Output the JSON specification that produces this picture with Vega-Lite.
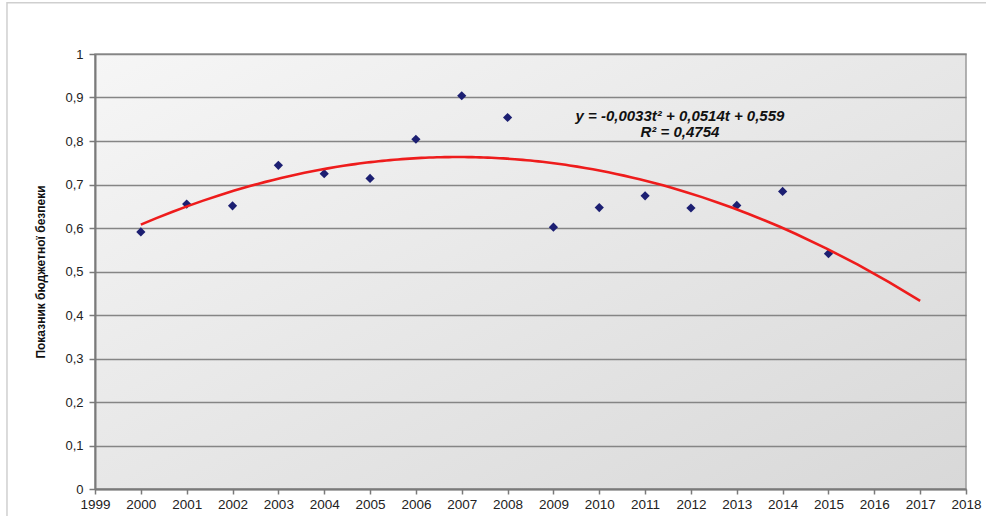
{
  "$schema": "https://vega.github.io/schema/vega-lite/v6.json",
  "width": 871,
  "height": 435,
  "autosize": {"type": "none"},
  "padding": {"left": 95, "top": 54, "right": 20, "bottom": 27},
  "background": "white",
  "config": {
    "font": "Liberation Sans",
    "view": {
      "fill": {"gradient": "linear", "x1": 0, "y1": 0, "x2": 1, "y2": 1,
        "stops": [{"offset": 0, "color": "#f6f6f6"}, {"offset": 1, "color": "#d8d8d8"}]},
      "stroke": "#9a9a9a",
      "strokeWidth": 1.5
    }
  },
  "datasets": {
    "points": [
      {"year": 2000, "value": 0.591},
      {"year": 2001, "value": 0.655},
      {"year": 2002, "value": 0.651},
      {"year": 2003, "value": 0.744},
      {"year": 2004, "value": 0.725},
      {"year": 2005, "value": 0.714},
      {"year": 2006, "value": 0.804},
      {"year": 2007, "value": 0.904},
      {"year": 2008, "value": 0.854},
      {"year": 2009, "value": 0.602},
      {"year": 2010, "value": 0.647},
      {"year": 2011, "value": 0.674},
      {"year": 2012, "value": 0.646},
      {"year": 2013, "value": 0.652},
      {"year": 2014, "value": 0.684},
      {"year": 2015, "value": 0.541}
    ],
    "notes": [
      {"year": 2011.76, "value": 0.857, "label": "y = -0,0033t² + 0,0514t + 0,559"},
      {"year": 2011.76, "value": 0.820, "label": "R² = 0,4754"}
    ],
    "frame": [
      {"x1": 1997.08, "x2": 2019.45, "y1": 1.118, "y2": -0.1}
    ]
  },
  "layer": [
    {
      "data": {"name": "frame"},
      "mark": {"type": "rect", "fill": null, "stroke": "#cfcfcf", "strokeWidth": 1.5, "clip": false},
      "encoding": {
        "x": {"field": "x1", "type": "quantitative", "scale": {"domain": [1999, 2018], "nice": false, "zero": false}},
        "x2": {"field": "x2"},
        "y": {"field": "y1", "type": "quantitative", "scale": {"domain": [0, 1], "nice": false}},
        "y2": {"field": "y2"}
      }
    },
    {
      "data": {"name": "points"},
      "mark": {"type": "point", "shape": "diamond", "filled": true, "size": 85, "color": "#1c1f72", "opacity": 1},
      "encoding": {
        "x": {
          "field": "year", "type": "quantitative",
          "scale": {"domain": [1999, 2018], "nice": false, "zero": false},
          "axis": {
            "title": null, "values": [1999,2000,2001,2002,2003,2004,2005,2006,2007,2008,2009,2010,2011,2012,2013,2014,2015,2016,2017,2018],
            "format": "d", "grid": false, "domainColor": "#7a7a7a", "domainWidth": 2,
            "tickColor": "#7a7a7a", "tickSize": 5, "tickWidth": 1.5,
            "labelFont": "Liberation Sans", "labelFontSize": 13.5, "labelColor": "#222222", "labelPadding": 3,
            "labelFlush": false, "labelOverlap": false
          }
        },
        "y": {
          "field": "value", "type": "quantitative",
          "scale": {"domain": [0, 1], "nice": false},
          "axis": {
            "title": "Показник бюджетної безпеки", "titleFont": "Liberation Sans", "titleFontSize": 12,
            "titleFontWeight": "bold", "titleColor": "#111111", "titlePadding": 17,
            "values": [0, 0.1, 0.2, 0.3, 0.4, 0.5, 0.6, 0.7, 0.8, 0.9, 1],
            "labelExpr": "replace(format(datum.value, '.1~f'), '.', ',')",
            "grid": true, "gridColor": "#858585", "gridWidth": 1.5,
            "domainColor": "#7a7a7a", "domainWidth": 2,
            "tickColor": "#7a7a7a", "tickSize": 6, "tickWidth": 1.5,
            "labelFont": "Liberation Sans", "labelFontSize": 13, "labelColor": "#222222", "labelPadding": 6
          }
        }
      }
    },
    {
      "data": {"name": "points"},
      "transform": [
        {"regression": "value", "on": "year", "method": "poly", "order": 2, "extent": [2000, 2017]}
      ],
      "mark": {"type": "line", "color": "#ee1c1c", "strokeWidth": 2.6},
      "encoding": {
        "x": {"field": "year", "type": "quantitative"},
        "y": {"field": "value", "type": "quantitative"}
      }
    },
    {
      "data": {"name": "notes"},
      "mark": {"type": "text", "font": "Liberation Sans", "fontSize": 15, "fontWeight": "bold", "fontStyle": "italic", "color": "#111111", "align": "center", "baseline": "middle"},
      "encoding": {
        "x": {"field": "year", "type": "quantitative"},
        "y": {"field": "value", "type": "quantitative"},
        "text": {"field": "label"}
      }
    }
  ]
}
